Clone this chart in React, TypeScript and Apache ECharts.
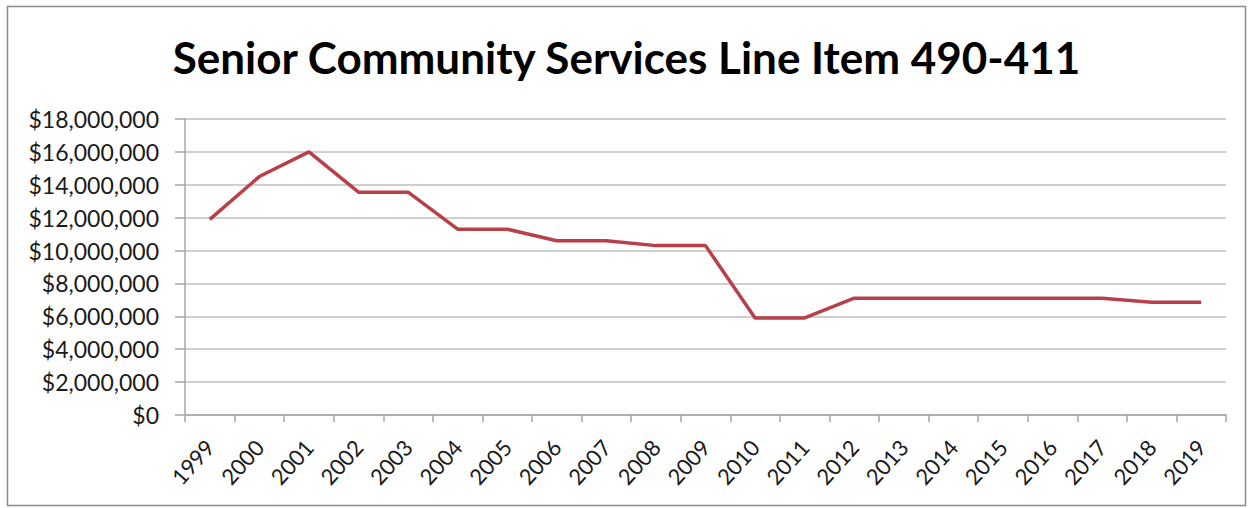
import React, { useEffect, useRef } from "react";
import * as echarts from "echarts";

const years = ["1999","2000","2001","2002","2003","2004","2005","2006","2007","2008","2009","2010","2011","2012","2013","2014","2015","2016","2017","2018","2019"];
const funding = [11900000,14500000,16000000,13550000,13550000,11300000,11300000,10600000,10600000,10300000,10300000,5900000,5900000,7100000,7100000,7100000,7100000,7100000,7100000,6850000,6850000];
const titleText = "Senior Community Services Line Item 490-411";

function money(v: number): string {
  return "$" + v.toLocaleString("en-US");
}

export default function App() {
  const ref = useRef<HTMLDivElement>(null);
  useEffect(() => {
    if (!ref.current) return;
    const chart = echarts.init(ref.current, undefined, { renderer: "svg" });
    chart.setOption({
      animation: false,
      backgroundColor: "#ffffff",
      title: {
        text: titleText,
        left: "center",
        top: 30,
        textStyle: { fontFamily: "Lato", fontWeight: "bold", fontSize: 44, color: "#000" },
      },
      graphic: [
        {
          type: "rect",
          shape: { x: 7.5, y: 6.5, width: 1238, height: 499 },
          style: { fill: "none", stroke: "#8c8c8c", lineWidth: 1.5 },
          silent: true,
        },
      ],
      grid: { left: 185, right: 27, top: 119, bottom: 93 },
      xAxis: {
        type: "category",
        data: years,
        boundaryGap: true,
        axisLine: { show: true, lineStyle: { color: "#a6a6a6", width: 1.5 } },
        axisTick: { show: true, alignWithLabel: false, length: 7, lineStyle: { color: "#a6a6a6", width: 1.5 } },
        axisLabel: { rotate: 48, fontFamily: "Lato", fontSize: 22, color: "#1a1a1a", margin: 28, interval: 0 },
        splitLine: { show: false },
      },
      yAxis: {
        type: "value",
        min: 0,
        max: 18000000,
        interval: 2000000,
        axisLine: { show: true, lineStyle: { color: "#a6a6a6", width: 1.5 } },
        axisTick: { show: true, length: 10, lineStyle: { color: "#a6a6a6", width: 1.5 } },
        axisLabel: { formatter: (v: number) => money(v), fontFamily: "Lato", fontSize: 23, color: "#1a1a1a", margin: 26 },
        splitLine: { show: true, lineStyle: { color: "#bfbfbf", width: 1.5 } },
      },
      series: [
        {
          type: "line",
          data: funding,
          symbol: "none",
          lineStyle: { color: "#b8404a", width: 3.5 },
          itemStyle: { color: "#b8404a" },
        },
      ],
    });
    return () => chart.dispose();
  }, []);
  return <div ref={ref} style={{ position: "absolute", left: 0, top: 0, width: 1253, height: 508 }} />;
}
